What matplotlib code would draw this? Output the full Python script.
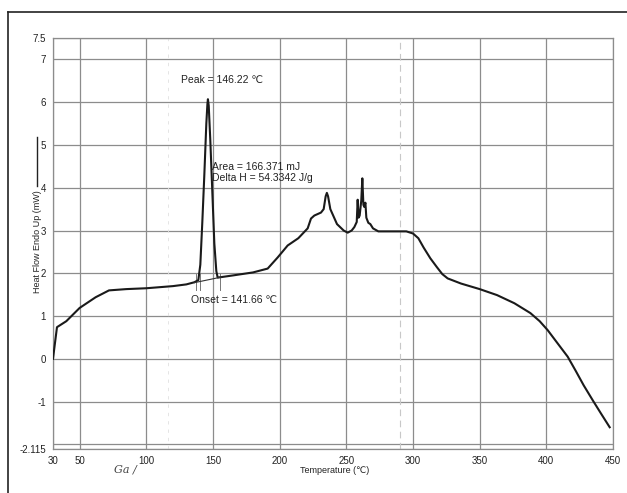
import matplotlib
matplotlib.use("Agg")
import matplotlib.pyplot as plt
from matplotlib.lines import Line2D

plt.rcParams['font.family'] = ['Liberation Sans Narrow', 'Liberation Sans', 'DejaVu Sans']

temperature = [30, 33, 40, 50, 62, 72, 85, 100, 120, 130, 136, 139,
               140.5, 142, 143.5, 145, 145.8, 146.2, 146.8, 148, 149.5, 151, 152.5, 153.5, 156,
               165, 180, 191, 198.5, 206, 214, 221, 223.5, 226, 231, 233, 234.5, 235.4, 236.3,
               238, 243, 248, 251, 254, 256, 257.8, 258.5, 259.2, 260, 261.2, 262, 262.8,
               263.5, 264.3, 265, 266.5, 268, 270, 274, 285, 295, 300, 304, 308, 313, 318,
               322, 326, 336, 350, 363, 376, 388, 395, 401, 408, 416, 422, 428, 435, 441, 447.5]
heat_flow = [0.0, 0.74, 0.88, 1.19, 1.44, 1.6, 1.63, 1.65, 1.7, 1.74, 1.79, 1.84,
             2.2, 3.2, 4.3, 5.5, 5.95, 6.07, 5.92, 5.1, 3.9, 2.7, 2.05, 1.9, 1.91,
             1.95, 2.02, 2.11, 2.37, 2.65, 2.82, 3.05, 3.28, 3.35, 3.42, 3.5, 3.8, 3.88, 3.8,
             3.5, 3.15, 3.0, 2.95, 3.0, 3.08, 3.2, 3.72, 3.3, 3.35, 3.7, 4.22, 3.6,
             3.55, 3.65, 3.3, 3.18, 3.15, 3.05, 2.98, 2.98, 2.98, 2.93, 2.82, 2.6, 2.35, 2.14,
             1.98, 1.88, 1.76, 1.63, 1.49, 1.3, 1.07, 0.88, 0.67, 0.38, 0.05, -0.28, -0.62, -0.98, -1.28, -1.6]

# integration baseline under the melting peak
baseline_t = [136, 156]
baseline_hf = [1.78, 1.91]
limit_marks = [137, 140, 155]

x_ticks = [30, 50, 100, 150, 200, 250, 300, 350, 400, 450]
y_ticks = [-2.115, -1, 0, 1, 2, 3, 4, 5, 6, 7, 7.5]
y_tick_labels = ['-2.115', '-1', '0', '1', '2', '3', '4', '5', '6', '7', '7.5']

fig = plt.figure(figsize=(6.27, 4.93), dpi=100)
ax = fig.add_axes([0.0845, 0.0887, 0.8932, 0.8341])

grid_col = '#8c8c8c'
for xv in x_ticks:
    ax.axvline(xv, color=grid_col, lw=0.9, zorder=1)
for yv in y_ticks + [-2.0]:
    ax.axhline(yv, color=grid_col, lw=0.9, zorder=1)
ax.axvline(290, color='#c8c8c8', lw=0.8, ls=(0, (6, 4)), zorder=1)
ax.axvline(116, color='#e0e0e0', lw=0.6, ls=(0, (4, 6)), zorder=1)

ax.plot(temperature, heat_flow, color='#1a1a1a', lw=1.5, zorder=3)
ax.plot(baseline_t, baseline_hf, color='#333333', lw=0.8, zorder=3)
for m in limit_marks:
    ax.plot([m, m], [1.62, 1.98], color='#777777', lw=0.7, zorder=2)

ax.set_xlim(30, 450)
ax.set_ylim(-2.115, 7.5)
ax.set_xticks(x_ticks)
ax.set_xticklabels([str(v) for v in x_ticks])
ax.set_yticks(y_ticks)
ax.set_yticklabels(y_tick_labels)
ax.tick_params(length=0, labelsize=7, pad=5, colors='#222222')
for s in ax.spines.values():
    s.set_color(grid_col)
    s.set_linewidth(0.9)

ax.text(126, 6.53, 'Peak = 146.22 \u2103', fontsize=7.5, va='center', color='#222222')
ax.text(149.6, 4.49, 'Area = 166.371 mJ', fontsize=7.5, va='center', color='#222222')
ax.text(149.6, 4.23, 'Delta H = 54.3342 J/g', fontsize=7.5, va='center', color='#222222')
ax.text(133.8, 1.37, 'Onset = 141.66 \u2103', fontsize=7.5, va='center', color='#222222')

ax.text(241, -0.052, 'Temperature (\u2103)', transform=ax.get_xaxis_transform(),
        fontsize=6.5, ha='center', va='center', color='#222222')
ax.text(-0.028, 0.505, 'Heat Flow Endo Up (mW)', transform=ax.transAxes, rotation=90,
        fontsize=6.5, ha='center', va='center', color='#222222')
ax.plot([-0.028, -0.028], [0.64, 0.76], transform=ax.transAxes, color='#222222',
        lw=1.0, clip_on=False)
ax.text(84, -0.048, 'Ga /', transform=ax.get_xaxis_transform(), fontsize=8,
        style='italic', family='DejaVu Serif', ha='center', va='center', color='#444444')

# scan border
fig.add_artist(Line2D([0.0128, 0.0128], [0.0, 0.9757], color='#222222', lw=1.2))
fig.add_artist(Line2D([0.0128, 1.0], [0.9757, 0.9757], color='#222222', lw=1.2))

fig.savefig('out.png', dpi=100)
